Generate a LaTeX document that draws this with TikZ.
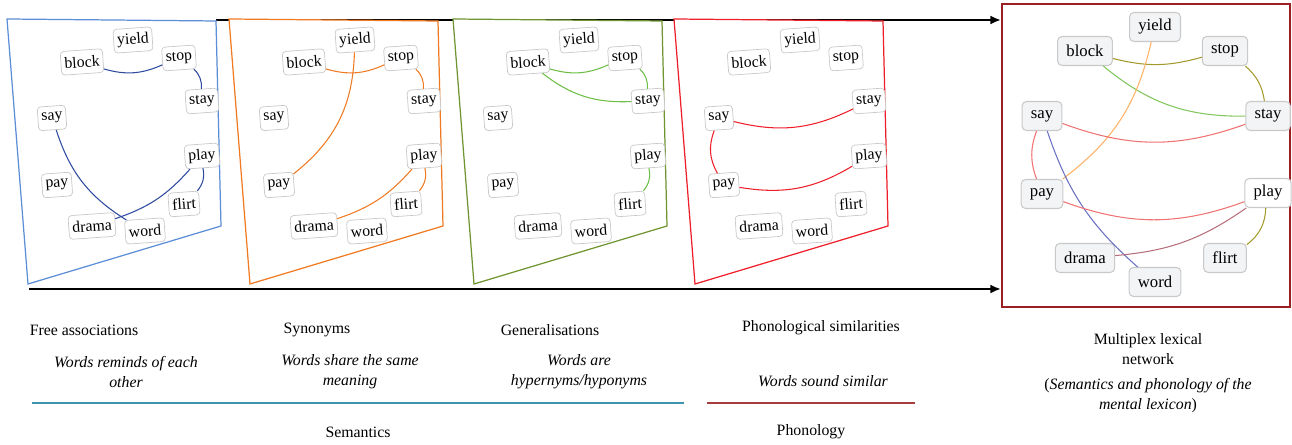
\documentclass[tikz,border=0pt]{standalone}
\usepackage{fontspec}
\setmainfont{Liberation Serif}
\usetikzlibrary{arrows.meta,positioning}
\definecolor{faBlue}{HTML}{5B8ED6}
\definecolor{faEdge}{HTML}{2E4B9F}
\definecolor{syOrange}{HTML}{F07A22}
\definecolor{geOlive}{HTML}{6F9430}
\definecolor{geGreen}{HTML}{6DBF45}
\definecolor{phRed}{HTML}{EE1F2A}
\definecolor{mxFrame}{HTML}{9B1F22}
\definecolor{boxLine}{HTML}{C9C9C9}
\definecolor{boxFill}{HTML}{F3F4F6}
\definecolor{mxOlive}{HTML}{A49A2C}
\definecolor{mxGreen}{HTML}{82C65E}
\definecolor{mxOrange}{HTML}{FFB266}
\definecolor{mxRed}{HTML}{F07272}
\definecolor{mxBlue}{HTML}{6A70C2}
\definecolor{mxMauve}{HTML}{B66F7A}
\definecolor{semLine}{HTML}{3E94AE}
\definecolor{phonLine}{HTML}{A63C3C}
\tikzset{
    wordbox/.style={draw=boxLine, fill=white, rounded corners=2pt, rotate=4, font=\fontsize{9}{10}\selectfont, inner xsep=2pt, inner ysep=1pt, minimum height=13.5pt},
    mxbox/.style={draw=boxLine, fill=boxFill, rounded corners=2.5pt, line width=0.6pt, font=\fontsize{9.5}{11}\selectfont, inner xsep=5pt, minimum height=16.5pt},
    panel/.style={line width=0.7pt, fill=white},
    link/.style={line width=0.6pt},
    flow/.style={-{Latex[length=6pt,width=5pt]}, line width=1.3pt},
    title/.style={font=\fontsize{9}{11.3}\selectfont, align=center},
    note/.style={font=\fontsize{9}{11.3}\selectfont\itshape, align=center}
}

\begin{document}
\begin{tikzpicture}[x=0.02cm, y=0.02cm]
  \useasboundingbox (0,0) rectangle (1292,445);

  % Layer axis
  \coordinate (top-start) at (216,425);
  \coordinate (top-end) at (1001,425);
  \coordinate (bot-start) at (29,156);
  \coordinate (bot-end) at (1001,156);
  \draw[flow] (top-start) -- (top-end);
  \draw[flow] (bot-start) -- (bot-end);

  % The four layers
  \foreach \p/\dx/\col in {fa/0/faBlue, sy/222/syOrange, ge/446/geOlive, ph/667/phRed} {
    \draw[panel, draw=\col] (\dx+7,426) -- (\dx+216,424) -- (\dx+221,219) -- (\dx+28,161) -- cycle;
    \foreach \w/\x/\y in {yield/133/405, block/82/383, stop/179/387, stay/202/344, say/52/327,
                          play/202/289, pay/57/260, flirt/184/241, drama/92/219, word/145/214}
      \node[wordbox] (\p-\w) at (\dx+\x,\y) {\w};
  }

  % Free associations
  \draw[link, faEdge] (fa-block) to[bend right=20] (fa-stop);
  \draw[link, faEdge] (fa-stop) to[bend left=25] (fa-stay);
  \draw[link, faEdge] (fa-say) to[bend right=20] (fa-word);
  \draw[link, faEdge] (fa-drama) to[bend right=15] (fa-play);
  \draw[link, faEdge] (fa-play) to[bend left=25] (fa-flirt);

  % Synonyms
  \draw[link, syOrange] (sy-block) to[bend right=20] (sy-stop);
  \draw[link, syOrange] (sy-stop) to[bend left=25] (sy-stay);
  \draw[link, syOrange] (sy-yield) to[bend left=25] (sy-pay);
  \draw[link, syOrange] (sy-drama) to[bend right=15] (sy-play);
  \draw[link, syOrange] (sy-play) to[bend left=25] (sy-flirt);

  % Generalisations
  \draw[link, geGreen] (ge-block) to[bend right=20] (ge-stop);
  \draw[link, geGreen] (ge-stop) to[bend left=25] (ge-stay);
  \draw[link, geGreen] (ge-block) to[bend right=20] (ge-stay);
  \draw[link, geGreen] (ge-play) to[bend left=25] (ge-flirt);

  % Phonological similarities
  \draw[link, phRed] (ph-say) to[bend right=20] (ph-stay);
  \draw[link, phRed] (ph-say) to[bend right=25] (ph-pay);
  \draw[link, phRed] (ph-pay) to[bend right=20] (ph-play);

  % Multiplex network
  \draw[mxFrame, line width=1.2pt] (1002,138) rectangle (1290,441);
  \foreach \w/\x/\y in {yield/1155/418, block/1085/394, stop/1225/394, say/1042/329, stay/1268/329,
                        pay/1042/251, drama/1085/187, flirt/1225/187, word/1155/163}
    \node[mxbox] (mx-\w) at (\x,\y) {\w};
  \node[mxbox, fill=white] (mx-play) at (1268,252) {play};

  \draw[link, mxOlive] (mx-block) to[bend right=15] (mx-stop);
  \draw[link, mxOlive] (mx-stop) to[bend left=20] (mx-stay);
  \draw[link, mxGreen] (mx-block) to[bend right=20] (mx-stay);
  \draw[link, mxOrange] (mx-yield) to[bend left=20] (mx-pay);
  \draw[link, mxRed] (mx-say) to[bend right=20] (mx-stay);
  \draw[link, mxRed] (mx-say) to[bend right=20] (mx-pay);
  \draw[link, mxBlue] (mx-say) to[bend right=15] (mx-word);
  \draw[link, mxRed] (mx-pay) to[bend right=20] (mx-play);
  \draw[link, mxMauve] (mx-drama) to[bend right=15] (mx-play);
  \draw[link, mxOlive] (mx-play) to[bend left=25] (mx-flirt);

  % Captions
  \node[title] (fa-title) at (84,115) {Free associations};
  \node[note] (fa-note) at (126,73) {Words reminds of each\\other};
  \node[title] (sy-title) at (317,115) {Synonyms};
  \node[note] (sy-note) at (350,73) {Words share the same\\meaning};
  \node[title] (ge-title) at (550,115) {Generalisations};
  \node[note] (ge-note) at (579,73) {Words are\\hypernyms/hyponyms};
  \node[title] (ph-title) at (821,117) {Phonological similarities};
  \node[note] (ph-note) at (823,64) {Words sound similar};
  \node[title] (mx-title) at (1148,96) {Multiplex lexical\\network};
  \node[note] (mx-note) at (1148,49) {\textup{(}Semantics and phonology of the\\mental lexicon\textup{)}};

  % Groups
  \coordinate (sem-l) at (32,42);
  \coordinate (sem-r) at (684,42);
  \coordinate (phon-l) at (707,42);
  \coordinate (phon-r) at (915,42);
  \draw[semLine, line width=1.1pt] (sem-l) -- (sem-r);
  \draw[phonLine, line width=1.1pt] (phon-l) -- (phon-r);
  \node[title] (sem-label) at (358,13) {Semantics};
  \node[title] (phon-label) at (811,13) {Phonology};
\end{tikzpicture}
\end{document}
